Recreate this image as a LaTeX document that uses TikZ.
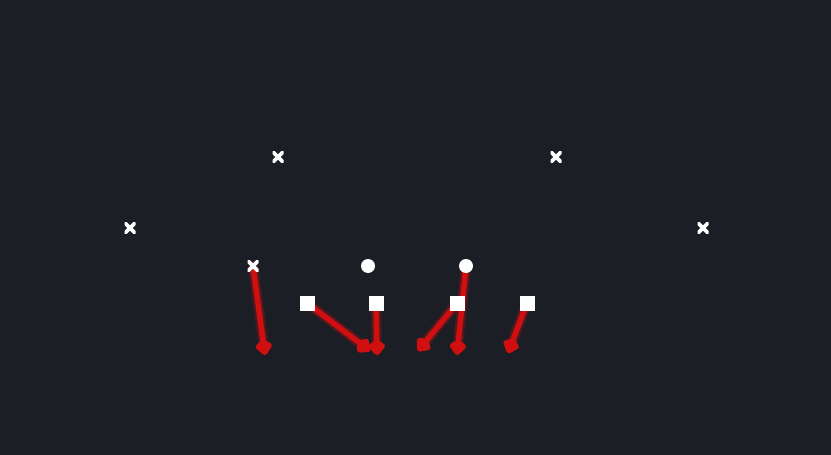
\documentclass[tikz,border=0pt]{standalone}
\usetikzlibrary{arrows.meta,calc}
\definecolor{bg}{HTML}{1B1E25}
\definecolor{route}{HTML}{D01010}
\definecolor{glow}{HTML}{8A1418}
\begin{document}
\begin{tikzpicture}[x=1pt,y=-1pt,
  xmark/.style={minimum size=11pt,inner sep=0pt,path picture={
    \draw[white,line width=3.6pt] (path picture bounding box.north west)--(path picture bounding box.south east)
      (path picture bounding box.north east)--(path picture bounding box.south west);}},
  player/.style={circle,fill=white,minimum size=14pt,inner sep=0pt},
  lineman/.style={rectangle,fill=white,minimum size=15pt,inner sep=0pt},
  routeglow/.style={glow,line width=10pt,opacity=0.5,line cap=round},
  routeline/.style={route,line width=5.5pt,-{Kite[length=17pt,width=19pt,inset=6pt,round]}},
  ]
\fill[bg] (0,0) rectangle (831,455);
\useasboundingbox (0,0) rectangle (831,455);
% end points
\coordinate (e1) at (265,355);
\coordinate (e2) at (370,351);
\coordinate (e3) at (377,355);
\coordinate (e4) at (418,351);
\coordinate (e5) at (457,355);
\coordinate (e6) at (508,353);
% routes
\coordinate (s1) at (253,266);
\coordinate (s2) at (307,303);
\coordinate (s3) at (376,303);
\coordinate (s4) at (457,303);
\coordinate (s5) at (466,266);
\coordinate (s6) at (527,303);
\foreach \a/\b in {s1/e1,s2/e2,s3/e3,s4/e4,s5/e5,s6/e6}{
  \draw[routeglow] (\a) -- ($(\a)!0.9!(\b)$);
}
\draw[routeline] (s1) -- (e1);
\draw[routeline] (s2) -- (e2);
\draw[routeline] (s3) -- (e3);
\draw[routeline] (s4) -- (e4);
\draw[routeline] (s5) -- (e5);
\draw[routeline] (s6) -- (e6);
% players
\node[xmark] (x1) at (278,157) {};
\node[xmark] (x2) at (556,157) {};
\node[xmark] (x3) at (130,228) {};
\node[xmark] (x4) at (703,228) {};
\node[xmark] (x5) at (253,266) {};
\node[player] (c1) at (368,266) {};
\node[player] (c2) at (466,266) {};
\node[lineman] (q1) at (307,303) {};
\node[lineman] (q2) at (376,303) {};
\node[lineman] (q3) at (457,303) {};
\node[lineman] (q4) at (527,303) {};
\end{tikzpicture}
\end{document}
